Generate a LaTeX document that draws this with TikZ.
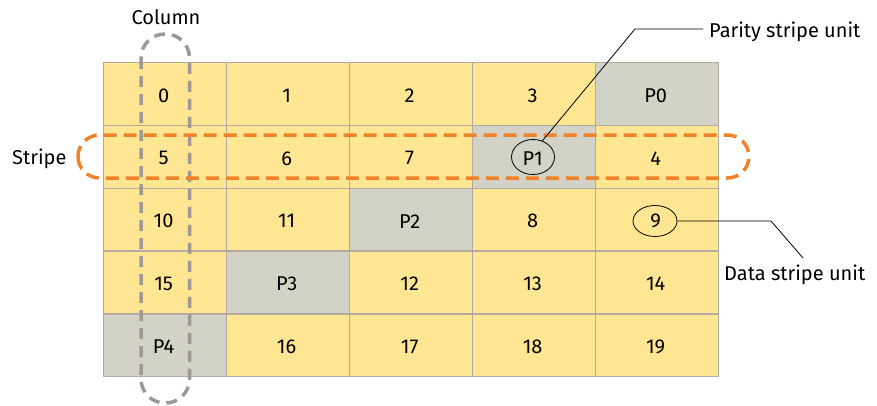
\documentclass[tikz,border=0pt]{standalone}
\usepackage{fontspec}
\setmainfont{Fira Sans}
\usetikzlibrary{shapes.geometric,calc}
\definecolor{cellY}{HTML}{FFE692}
\definecolor{cellG}{HTML}{D3D2C7}
\definecolor{gridC}{HTML}{B3AAA2}
\definecolor{colD}{HTML}{A09894}
\definecolor{strD}{HTML}{F0822A}
\tikzset{
  cell/.style={draw=gridC, line width=1.3pt, minimum width=123pt, minimum height=62.8pt, inner sep=0pt, anchor=north west},
  ycell/.style={cell, fill=cellY},
  gcell/.style={cell, fill=cellG},
  lbl/.style={font=\fontsize{20}{24}\selectfont, inner sep=0pt},
  ringmark/.style={draw=black, line width=0.8pt, ellipse, inner sep=0pt},
  callout/.style={draw=black, line width=0.8pt},
}
\begin{document}
\begin{tikzpicture}[x=1pt,y=-1pt]
\useasboundingbox (0,0) rectangle (877,405);
% cells
\foreach \r/\row in {0/{0,1,2,3,P0},1/{5,6,7,P1,4},2/{10,11,P2,8,9},3/{15,P3,12,13,14},4/{P4,16,17,18,19}}{
  \foreach \t [count=\c from 0] in \row {
    \pgfmathsetmacro{\xx}{102.5+123*\c}
    \pgfmathsetmacro{\yy}{62+62.8*\r}
    \edef\tmp{\t}
    \ifnum\pdfstrcmp{\tmp}{P\r}=0
      \node[gcell] (c\r\c) at (\xx,\yy) {};
    \else
      \node[ycell] (c\r\c) at (\xx,\yy) {};
    \fi
  }
}
% cell texts
\foreach \r/\row in {0/{0,1,2,3,P0},1/{5,6,7,P1,4},2/{10,11,P2,8,9},3/{15,P3,12,13,14},4/{P4,16,17,18,19}}{
  \foreach \t [count=\c from 0] in \row {
    \node[lbl] (t\r\c) at ($(c\r\c.center)+(-1,1.5)$) {\t};
  }
}
% ellipses
\node[ringmark, minimum width=43pt, minimum height=35pt] (p1e) at (533,157) {};
\node[ringmark, minimum width=44pt, minimum height=31pt] (n9e) at (655,221) {};
% column and stripe outlines
\draw[colD, line width=3.5pt, dash pattern=on 11pt off 7pt, rounded corners=24pt] (141,34) rectangle (189.5,403);
\draw[strD, line width=3.5pt, dash pattern=on 13pt off 7pt, rounded corners=21.5pt] (78,135) rectangle (749,178);
% labels
\node[lbl] (collbl) at (166,17) {Column};
\node[lbl, anchor=west] (strlbl) at (12,159) {Stripe};
\node[lbl, anchor=west] (parlbl) at (709,32) {Parity stripe unit};
\node[lbl, anchor=west] (datlbl) at (724,275) {Data stripe unit};
% callouts
\coordinate (k1) at (635,29);
\coordinate (k1e) at (703,29);
\coordinate (k2) at (771,221);
\coordinate (k2e) at (803,258);
\draw[callout] (p1e.60) -- (k1) -- (k1e);
\draw[callout] (n9e.east) -- (k2) -- (k2e);
\end{tikzpicture}
\end{document}
